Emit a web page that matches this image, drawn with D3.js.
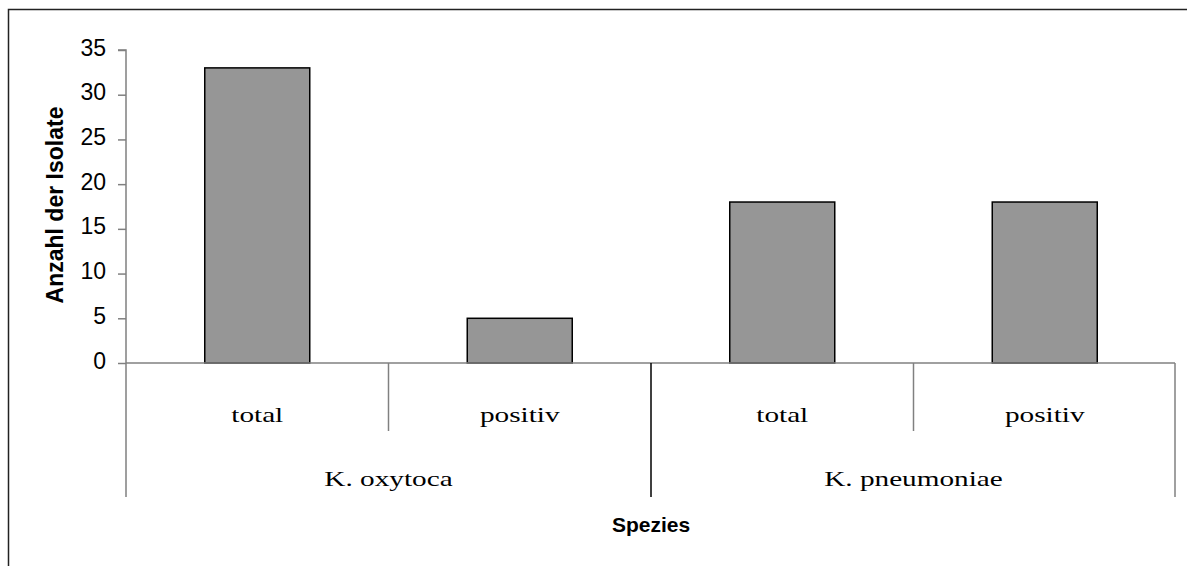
<!DOCTYPE html>
<html>
<head>
<meta charset="utf-8">
<script src="https://d3js.org/d3.v7.min.js"></script>
<style>
  body { margin: 0; background: #fff; }
  svg { display: block; }
  .tick text { font-family: Arial, "Liberation Sans", sans-serif; font-size: 23px; fill: #000; }
  .cat { font-family: "Times New Roman", "Liberation Serif", serif; font-size: 22px; fill: #000; }
  .title { font-family: Arial, "Liberation Sans", sans-serif; font-weight: bold; fill: #000; }
</style>
</head>
<body>
<div id="area"></div>
<script>
var species = ["K. oxytoca", "K. pneumoniae"];
var kinds = ["total", "positiv"];
var values = [33, 5, 18, 18];
var yTicks = [0, 5, 10, 15, 20, 25, 30, 35];

var W = 1187, H = 566;
var plotLeft = 126, plotRight = 1176, plotTop = 50, zeroY = 363;

var svg = d3.select("#area").append("svg")
  .attr("width", W).attr("height", H);

// outer frame (only top and left visible)
svg.append("path")
  .attr("d", "M8.5," + H + "V9.5H" + W)
  .attr("fill", "none").attr("stroke", "#222").attr("stroke-width", 1.5);

var keys = [];
species.forEach(function(s) { kinds.forEach(function(k) { keys.push(s + "|" + k); }); });

var x = d3.scaleBand().domain(keys).range([plotLeft, plotRight]).paddingInner(0).paddingOuter(0);
var y = d3.scaleLinear().domain([0, 35]).range([zeroY, plotTop]);

// Y axis
var yAxis = svg.append("g")
  .attr("transform", "translate(" + plotLeft + ",0)")
  .call(d3.axisLeft(y).tickValues(yTicks).tickSize(8).tickPadding(12));
yAxis.select(".domain").attr("stroke", "#808080").attr("stroke-width", 1.5)
  .attr("d", "M-8," + y(35) + "H0V" + 497);
yAxis.selectAll(".tick line").attr("stroke", "#808080").attr("stroke-width", 1.5);
yAxis.selectAll(".tick text").attr("dy", "0.22em");

// bars
svg.append("g").selectAll("rect")
  .data(values)
  .enter().append("rect")
    .attr("x", function(d, i) { return x(keys[i]) + x.bandwidth() * 0.3; })
    .attr("y", function(d) { return y(d); })
    .attr("width", x.bandwidth() * 0.4)
    .attr("height", function(d) { return y(0) - y(d); })
    .attr("fill", "#969696")
    .attr("stroke", "#000")
    .attr("stroke-width", 1.5);

// category axis line
svg.append("line")
  .attr("x1", plotLeft).attr("x2", plotRight - 1)
  .attr("y1", zeroY).attr("y2", zeroY)
  .attr("stroke", "#808080").attr("stroke-width", 1.5);

// inner separators (between kinds)
keys.forEach(function(k, i) {
  if (i % 2 === 1) {
    svg.append("line")
      .attr("x1", x(k)).attr("x2", x(k))
      .attr("y1", zeroY).attr("y2", 431)
      .attr("stroke", "#808080").attr("stroke-width", 1.5);
  }
});
// group separators
[x(keys[2]), plotRight - 1].forEach(function(px) {
  svg.append("line")
    .attr("x1", px).attr("x2", px)
    .attr("y1", zeroY).attr("y2", 497)
    .attr("stroke", px === plotRight - 1 ? "#808080" : "#000").attr("stroke-width", 1.5);
});

// kind labels (source font is drawn wide)
keys.forEach(function(k) {
  svg.append("text").attr("class", "cat")
    .attr("transform", "translate(" + (x(k) + x.bandwidth() / 2) + ",422)scale(1.33,1)")
    .attr("text-anchor", "middle")
    .text(k.split("|")[1]);
});
// species labels
species.forEach(function(s, i) {
  var cx = (x(keys[i * 2]) + x(keys[i * 2 + 1]) + x.bandwidth()) / 2;
  svg.append("text").attr("class", "cat")
    .attr("transform", "translate(" + cx + ",486)scale(1.33,1)")
    .attr("text-anchor", "middle")
    .text(s);
});

// titles
svg.append("text").attr("class", "title")
  .attr("x", 651).attr("y", 532)
  .attr("text-anchor", "middle")
  .style("font-size", "21px")
  .text("Spezies");
svg.append("text").attr("class", "title")
  .attr("transform", "translate(63,205)rotate(-90)")
  .attr("text-anchor", "middle")
  .style("font-size", "23px")
  .text("Anzahl der Isolate");
</script>
</body>
</html>
